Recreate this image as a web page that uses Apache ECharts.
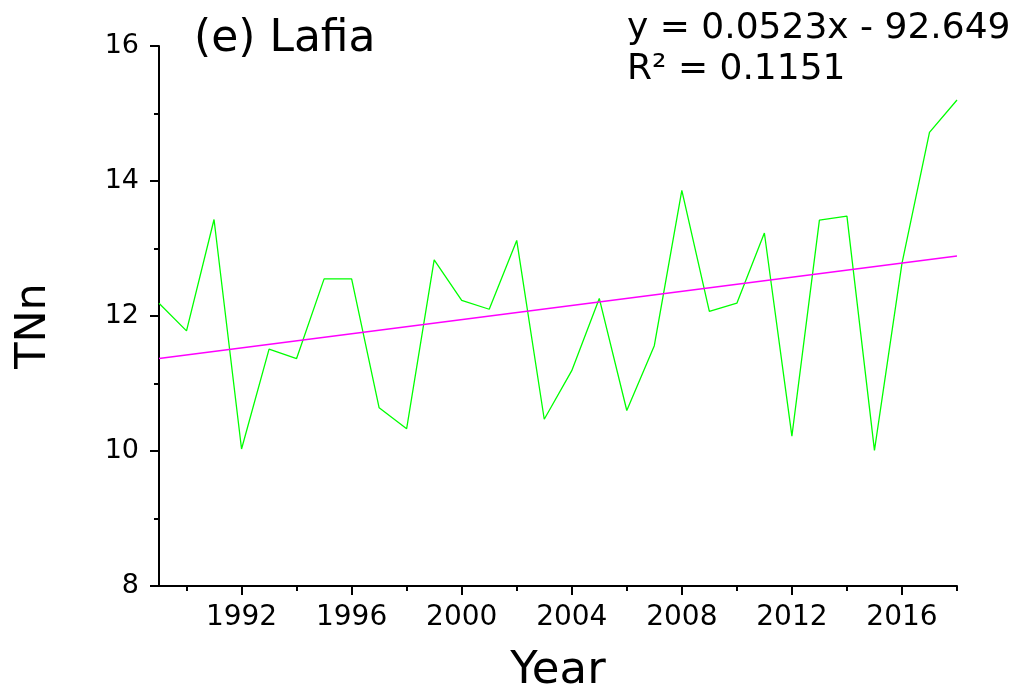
<!DOCTYPE html>
<html>
<head>
<meta charset="utf-8">
<script src="https://cdn.jsdelivr.net/npm/echarts@6/dist/echarts.min.js"></script>
<style>
html,body{margin:0;padding:0;background:#fff;}
#chart{width:1032px;height:690px;}
</style>
</head>
<body>
<div id="chart"></div>
<script>
const years = ['1989','1990','1991','1992','1993','1994','1995','1996','1997','1998','1999','2000','2001','2002','2003','2004','2005','2006','2007','2008','2009','2010','2011','2012','2013','2014','2015','2016','2017','2018'];
const tnn = [12.19,11.78,13.43,10.03,11.51,11.37,12.55,12.55,10.64,10.33,12.83,12.23,12.10,13.12,10.47,11.19,12.26,10.60,11.56,13.86,12.07,12.19,13.23,10.22,13.42,13.48,10.01,12.78,14.72,15.20];
const trendYears = ['1989','2018'];
const trendValues = [11.37, 12.89];
const yTicks = [8, 10, 12, 14, 16];
const titleText = '(e) Lafia';
const equationText = 'y = 0.0523x - 92.649\nR\u00b2 = 0.1151';

const FONT = 'DejaVu Sans';
const chart = echarts.init(document.getElementById('chart'), null, {renderer: 'canvas'});
const axisColor = '#000';

chart.setOption({
  backgroundColor: '#fff',
  animation: false,
  title: [
    {text: titleText, left: 194, top: 18, padding: 0,
     textStyle: {fontFamily: FONT, fontSize: 44, fontWeight: 'normal', color: '#000'}},
    {text: equationText, left: 627, top: 8, padding: 0,
     textStyle: {fontFamily: FONT, fontSize: 36, fontWeight: 'normal', color: '#000', lineHeight: 41}}
  ],
  grid: {left: 159, right: 75, top: 46, bottom: 104, containLabel: false, outerBoundsMode: 'none'},
  xAxis: [
    {
      type: 'category', data: years, boundaryGap: false, position: 'bottom',
      name: 'Year', nameLocation: 'middle', nameGap: 63,
      nameTextStyle: {fontFamily: FONT, fontSize: 45, color: '#000'},
      axisLine: {show: true, lineStyle: {color: axisColor, width: 2}},
      axisTick: {show: true, length: 9, lineStyle: {color: axisColor, width: 2},
                 interval: (i, v) => (+v) % 4 === 0},
      axisLabel: {show: true, margin: 18, fontFamily: FONT, fontSize: 28, color: '#000',
                  interval: (i, v) => (+v) % 4 === 0},
      splitLine: {show: false}
    },
    {
      type: 'category', data: years, boundaryGap: false, position: 'bottom',
      axisLine: {show: false},
      axisTick: {show: true, length: 5, lineStyle: {color: axisColor, width: 2},
                 interval: (i, v) => (+v) % 4 === 2},
      axisLabel: {show: false},
      splitLine: {show: false}
    }
  ],
  yAxis: {
    type: 'value', min: yTicks[0], max: yTicks[yTicks.length - 1], interval: 2,
    name: 'TNn', nameLocation: 'middle', nameGap: 104, nameRotate: 90,
    nameTextStyle: {fontFamily: FONT, fontSize: 43, color: '#000', padding: [0, 20, 0, 0]},
    axisLine: {show: true, lineStyle: {color: axisColor, width: 2}},
    axisTick: {show: true, length: 9, lineStyle: {color: axisColor, width: 2}},
    minorTick: {show: true, splitNumber: 2, length: 5, lineStyle: {color: axisColor, width: 2}},
    axisLabel: {margin: 20, fontFamily: FONT, fontSize: 27, color: '#000'},
    splitLine: {show: false}
  },
  series: [
    {
      type: 'line', xAxisIndex: 0, data: tnn, symbol: 'none',
      lineStyle: {color: '#00ff00', width: 1.3}, z: 2
    },
    {
      type: 'line', xAxisIndex: 0, data: trendYears.map((y, i) => [y, trendValues[i]]),
      symbol: 'none', lineStyle: {color: '#ff00ff', width: 1.5}, z: 3
    }
  ]
});
</script>
</body>
</html>
